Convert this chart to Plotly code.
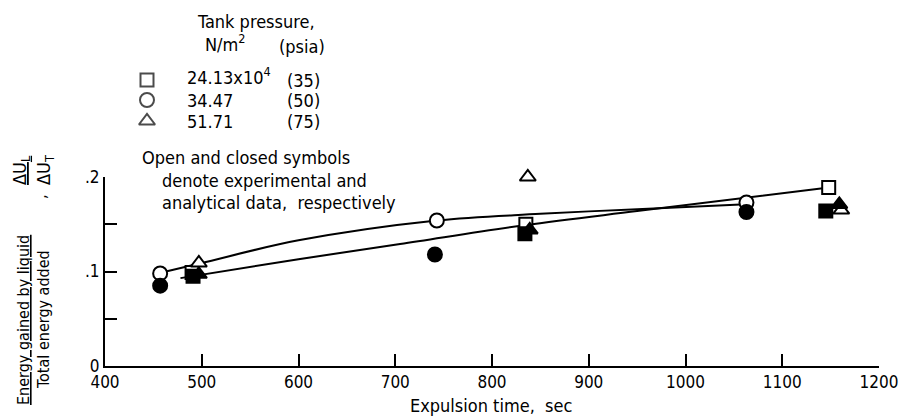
import plotly.graph_objects as go

# ---------------- data ----------------
# open symbols = experimental, closed symbols = analytical
sq_open_x = [490, 835, 1148]
sq_open_y = [0.099, 0.150, 0.189]
sq_fill_x = [491, 834, 1145]
sq_fill_y = [0.095, 0.140, 0.164]

ci_open_x = [457, 743, 1063]
ci_open_y = [0.098, 0.154, 0.173]
ci_fill_x = [457, 741, 1063]
ci_fill_y = [0.085, 0.118, 0.163]

tr_open_x = [497, 837, 1161]
tr_open_y = [0.109, 0.200, 0.165]
tr_fill_x = [497, 839, 1159]
tr_fill_y = [0.097, 0.144, 0.171]

# faired curves
upper_x = [463, 500, 600, 743, 850, 950, 1057]
upper_y = [0.100, 0.109, 0.133, 0.154, 0.161, 0.166, 0.171]
lower_x = [478, 600, 705, 834, 950, 1142]
lower_y = [0.093, 0.113, 0.129, 0.149, 0.164, 0.188]

x_ticks = [400, 500, 600, 700, 800, 900, 1000, 1100, 1200]
y_ticks = [0, 0.05, 0.1, 0.15, 0.2]
y_ticktext = ["0", " ", ".1", " ", ".2"]

legend_symbols = ["square", "circle", "triangle-up"]
legend_si = ["24.13x10<sup>4</sup>", "34.47", "51.71"]
legend_psia = ["(35)", "(50)", "(75)"]

# ---------------- layout geometry (pixels) ----------------
W, H = 900, 418
AX_L, AX_R, AX_T, AX_B = 105, 879, 177, 366
XR = [400, 1200]
YR = [0, 0.2]
FONT = "DejaVu Sans Condensed, Liberation Sans Narrow, sans-serif"
FS = 18

fig = go.Figure()

line_style = dict(color="black", width=2)
for cx, cy in ((upper_x, upper_y), (lower_x, lower_y)):
    fig.add_trace(go.Scatter(x=cx, y=cy, mode="lines",
                             line=dict(shape="spline", smoothing=1.0, **line_style),
                             showlegend=False, hoverinfo="skip"))

MS = 13


def add_pts(xs, ys, symbol, filled):
    fig.add_trace(go.Scatter(
        x=xs, y=ys, mode="markers", cliponaxis=False, showlegend=False,
        marker=dict(symbol=symbol, size=MS if symbol == "square" else MS + 1,
                    color="black" if filled else "white",
                    line=dict(color="black", width=2))))


add_pts(sq_open_x, sq_open_y, "square", False)
add_pts(ci_open_x, ci_open_y, "circle", False)
add_pts(tr_open_x, tr_open_y, "triangle-up", False)
add_pts(sq_fill_x, sq_fill_y, "square", True)
add_pts(ci_fill_x, ci_fill_y, "circle", True)
add_pts(tr_fill_x, tr_fill_y, "triangle-up", True)

# key symbols, drawn on an invisible pixel-unit overlay axis
row_y = [80, 100, 121]
fig.add_trace(go.Scatter(
    x=[147] * 3, y=row_y, xaxis="x2", yaxis="y2", mode="markers",
    showlegend=False, hoverinfo="skip", cliponaxis=False,
    marker=dict(symbol=legend_symbols, size=[MS, MS + 1, MS + 1], color="white",
                line=dict(color="black", width=2))))

annotations = []


def txt(text, x, y, xanchor="left", yanchor="middle", angle=0, size=FS):
    annotations.append(dict(text=text, x=x, y=y, xref="x2", yref="y2",
                            xanchor=xanchor, yanchor=yanchor, showarrow=False,
                            textangle=angle, font=dict(family=FONT, size=size, color="black")))


# key block
txt("Tank pressure,", 256, 21, xanchor="center")
txt("N/m<sup>2</sup>", 203, 43)
txt("(psia)", 277, 46)
for si, ps, ry in zip(legend_si, legend_psia, row_y):
    txt(si, 185, ry - (4 if "sup" in si else 0))
    txt(ps, 285, ry)

txt("Open and closed symbols", 140, 157)
txt("denote experimental and", 160, 180)
txt("analytical data,  respectively", 160, 202)

# axis titles
txt("Expulsion time,  sec", 491, 405, xanchor="center")
txt("<u>Energy gained by liquid</u>", 23, 320, xanchor="center", angle=-90, size=16)
txt("Total energy added", 43, 320, xanchor="center", angle=-90, size=16)
txt(",", 40, 197, xanchor="center", angle=-90, size=16)
txt("<u>ΔU<sub>L</sub></u>", 21, 170, xanchor="center", angle=-90, size=18)
txt("ΔU<sub>T</sub>", 45, 170, xanchor="center", angle=-90, size=18)

axis_common = dict(ticks="inside", ticklen=12, tickwidth=2, tickcolor="black",
                   showline=True, linecolor="black", linewidth=2,
                   showgrid=False, zeroline=False,
                   tickfont=dict(family=FONT, size=17, color="black"))

fig.update_layout(
    width=W, height=H,
    margin=dict(l=0, r=0, t=0, b=0, autoexpand=False),
    paper_bgcolor="white", plot_bgcolor="rgba(0,0,0,0)",
    font=dict(family=FONT, size=FS, color="black"),
    annotations=annotations,
    xaxis=dict(range=XR, tickvals=x_ticks, domain=[AX_L / W, AX_R / W], anchor="y",
               **axis_common),
    yaxis=dict(range=YR, tickvals=y_ticks, ticktext=y_ticktext,
               domain=[(H - AX_B) / H, (H - AX_T) / H], anchor="x", **axis_common),
    xaxis2=dict(range=[0, W], domain=[0, 1], anchor="y2", visible=False, fixedrange=True),
    yaxis2=dict(range=[H, 0], domain=[0, 1], anchor="x2", visible=False, fixedrange=True),
)

fig.write_html("out.html", config={"displayModeBar": False},
               post_script="document.body.style.margin='0';")
